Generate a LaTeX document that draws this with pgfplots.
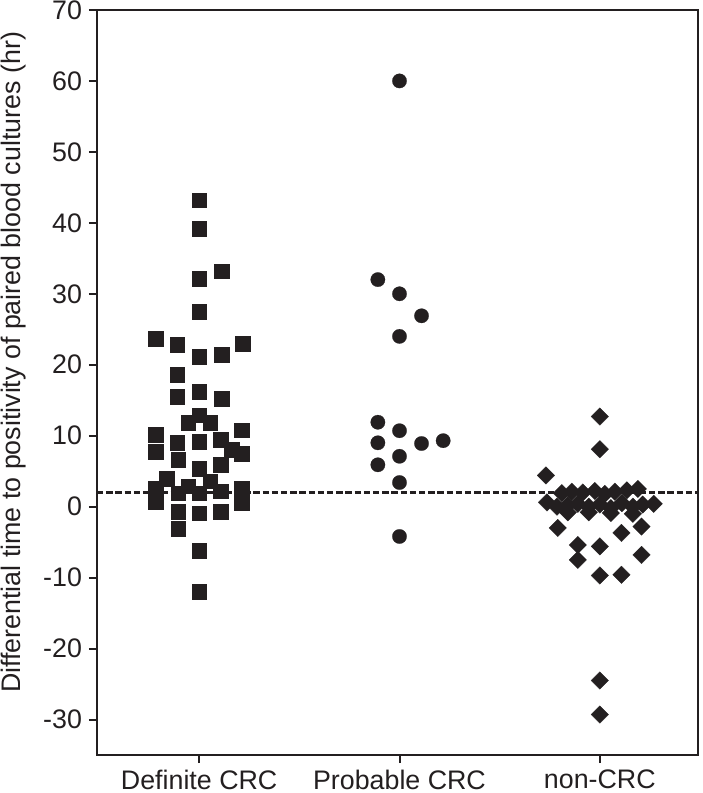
\documentclass[border=0pt]{standalone}
\usepackage{fontspec}
\setmainfont{Liberation Sans}
\usepackage{pgfplots}
\pgfplotsset{compat=1.18}
\definecolor{ink}{RGB}{35,31,32}

\begin{document}
\begin{tikzpicture}
\begin{axis}[
  scale only axis,
  width=300.5pt, height=372.5pt,
  xmin=0.49, xmax=3.49, ymin=-35, ymax=70,
  xtick={1,2,3},
  xticklabels={Definite CRC, Probable CRC, non-CRC},
  ytick={-30,-20,...,70},
  tick pos=left, tick align=outside,
  major tick length=4pt,
  axis line style={line width=1pt, draw=ink},
  every tick/.style={line width=1pt, draw=ink},
  ticklabel style={font=\fontsize{13.4}{15}\selectfont, text=ink},
  /pgf/number format/assume math mode=true,
  ylabel={Differential time to positivity of paired blood cultures (hr)},
  ylabel style={font=\fontsize{13.4}{15}\selectfont, text=ink,
    at={(ticklabel cs:0.527,1.5pt)}},
  clip=false,
]
% reference line
\addplot[ink, line width=1.1pt, dash pattern=on 3.2pt off 1.4pt] coordinates {(0.49,2) (3.49,2)};

% Definite CRC
\addplot[only marks, mark=square*, mark size=3.7pt,
  mark options={fill=ink, draw=ink, line width=0.1pt}] coordinates {
  (1.000,43.2) (1.000,39.2) (1.110,33.2) (1.000,32.1) (1.000,27.5)
  (0.783,23.7) (0.890,22.8) (1.217,23.0) (1.000,21.1) (1.110,21.4)
  (0.890,18.6) (1.000,16.2) (0.890,15.5) (1.110,15.2) (1.000,12.9)
  (0.945,11.8) (1.055,11.8) (0.783,10.2) (1.212,10.8) (0.890,9.0)
  (1.000,9.2) (1.105,9.4) (1.160,8.0) (0.783,7.8) (1.212,7.5)
  (0.895,6.6) (1.000,5.4) (1.105,5.9) (0.838,3.9) (0.945,2.9)
  (1.055,3.6) (1.105,2.2) (1.212,2.6) (0.783,2.6) (0.783,0.7)
  (0.895,1.9) (1.000,1.9) (1.212,0.5) (0.895,-0.7) (1.000,-0.9)
  (1.105,-0.7) (0.895,-3.1) (1.000,-6.2) (1.000,-12.0)
};

% Probable CRC
\addplot[only marks, mark=*, mark size=3.6pt,
  mark options={fill=ink, draw=ink, line width=0.1pt}] coordinates {
  (2.000,60.0) (1.892,32.0) (2.000,30.0) (2.110,26.9) (2.000,24.0)
  (1.892,11.9) (2.000,10.7) (1.892,9.0) (2.110,8.9) (2.218,9.3)
  (2.000,7.1) (1.892,5.9) (2.000,3.4) (2.000,-4.2)
};

% non-CRC
\addplot[only marks, mark=square*, mark size=3.1pt,
  mark options={rotate=45, fill=ink, draw=ink, line width=0.1pt}] coordinates {
  (3.000,12.7) (3.000,8.1) (2.731,4.4)
  (2.810,1.9) (2.860,2.1) (2.915,2.0) (2.975,2.2) (3.025,1.8)
  (3.075,2.1) (3.135,2.3) (3.190,2.5)
  (2.736,0.6) (2.786,0.0) (2.840,0.2) (2.890,0.4) (2.945,0.0)
  (3.000,0.3) (3.055,-0.2) (3.110,0.5) (3.165,0.0) (3.214,0.3) (3.269,0.4)
  (2.840,-0.8) (2.945,-0.8) (3.055,-0.9) (3.165,-1.0)
  (2.790,-3.0) (2.890,-5.4) (3.000,-5.6) (3.108,-3.7) (3.208,-2.8)
  (3.208,-6.8) (2.890,-7.5) (3.000,-9.7) (3.108,-9.6)
  (3.000,-24.5) (3.000,-29.3)
};
\coordinate (ll) at (rel axis cs:0,0);
\coordinate (ur) at (rel axis cs:1,1);
\end{axis}
\pgfresetboundingbox
\path[use as bounding box] ([shift={(-48.5pt,-19pt)}]ll) rectangle ([shift={(2pt,5pt)}]ur);
\end{tikzpicture}
\end{document}
